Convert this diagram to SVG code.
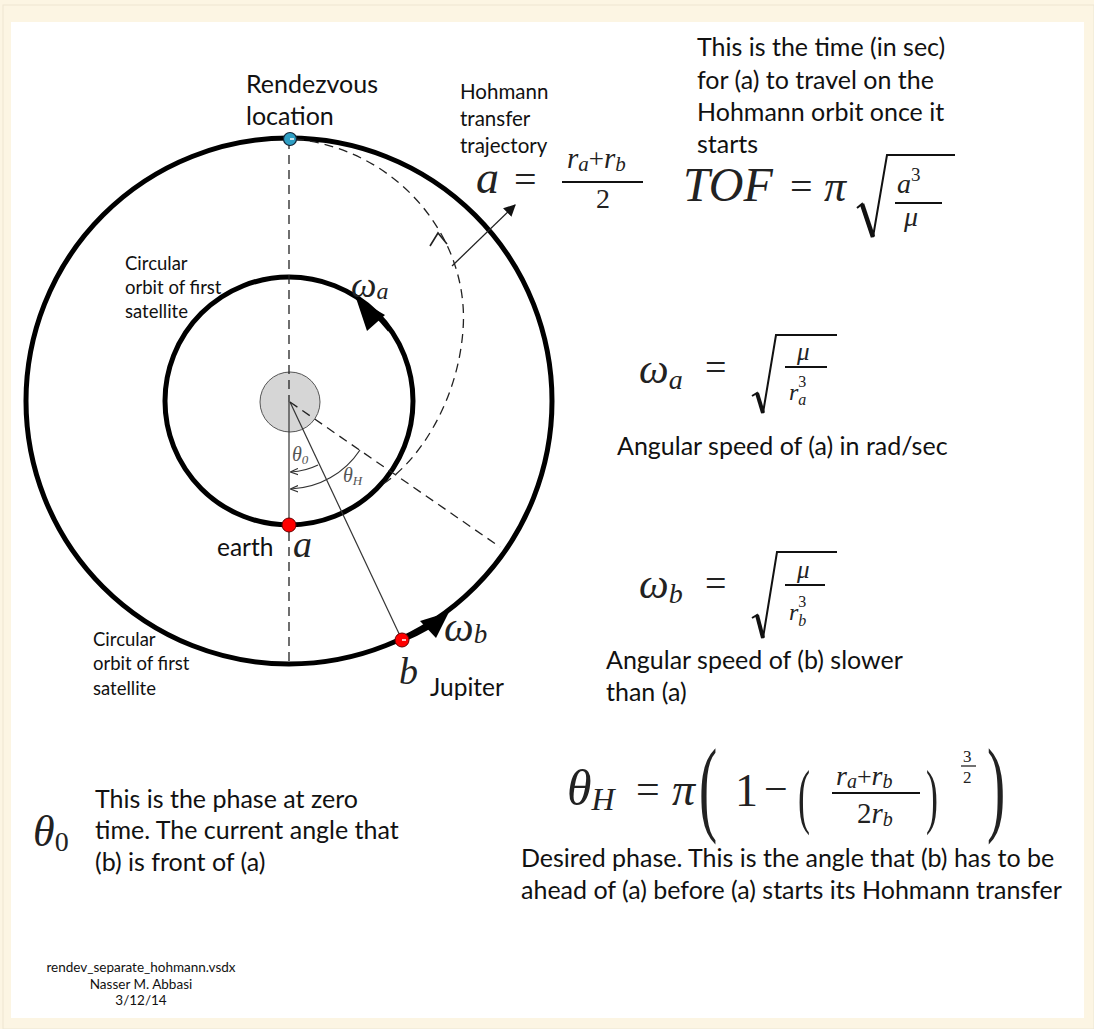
<svg xmlns="http://www.w3.org/2000/svg" width="1094" height="1029" viewBox="0 0 1094 1029">
<defs>
<style>
.txt{font-family:Lato,"Liberation Sans",sans-serif;fill:#111}
.t22{font-size:25px}
.t20{font-size:24.5px}
.t18{font-size:20.5px}
.t16{font-size:18.5px}
.t11{font-size:13.5px}
.m{font-family:"Liberation Serif","Times New Roman",serif;fill:#222}
.mi{font-style:italic}
.orbit{fill:none;stroke:#000;stroke-width:5}
.dash{fill:none;stroke:#222;stroke-width:1.3;stroke-dasharray:9 6}
.thin{fill:none;stroke:#333;stroke-width:1.2}
.rad{fill:none;stroke:#111;stroke-linejoin:miter}
.fbar{stroke:#111;stroke-width:2}
</style>
<marker id="arrF" viewBox="0 0 10 10" refX="9" refY="5" markerWidth="12" markerHeight="12" markerUnits="userSpaceOnUse" orient="auto"><path d="M0,0 L10,5 L0,10 z" fill="#111"/></marker>
<marker id="arrS" viewBox="0 0 10 10" refX="9" refY="5" markerWidth="8" markerHeight="8" markerUnits="userSpaceOnUse" orient="auto"><path d="M0,1 L10,5 L0,9" fill="none" stroke="#333" stroke-width="1.5"/></marker>
</defs>
<rect x="0" y="0" width="1094" height="1029" fill="#fcf5e3"/>
<rect x="3" y="5" width="1091" height="1024" fill="none" stroke="#ede6d2" stroke-width="1"/>
<rect x="11" y="22" width="1073" height="996" fill="#ffffff"/>

<g id="orbits">
<circle cx="289" cy="401" r="263" class="orbit"/>
<circle cx="289" cy="401" r="124" class="orbit"/>
</g>

<g id="central-body">
<circle cx="290" cy="402" r="30" fill="#d6d6d6" stroke="#555" stroke-width="1"/>
</g>

<g id="connectors">
<line x1="289" y1="140" x2="289" y2="402" class="dash"/>
<line x1="289" y1="402" x2="289" y2="520" class="thin"/>
<line x1="289" y1="532" x2="289" y2="664" class="dash"/>
<line x1="290" y1="402" x2="402" y2="640" class="thin"/>
<line x1="290" y1="402" x2="500" y2="547" class="dash"/>
<path d="M 295,139 C 400,150 470,240 463,330 C 458,400 420,460 383,484" class="dash"/>
<path d="M 430,246 L 438,233 L 447,244" fill="none" stroke="#222" stroke-width="1.6"/>
<line x1="452" y1="266" x2="515" y2="205" stroke="#222" stroke-width="1.3" marker-end="url(#arrF)"/>
<path d="M 318,465 A 70 70 0 0 1 291,472" class="thin" marker-end="url(#arrS)"/>
<path d="M 360,450 A 87 87 0 0 1 291,489" class="thin" marker-end="url(#arrS)"/>
<path d="M 390,330 A 124 124 0 0 0 372,311" fill="none" stroke="#000" stroke-width="5"/>
<path d="M 356,298 L 367,331 L 385,315 z" fill="#000"/>
<path d="M 402,640 A 263 263 0 0 0 430,626" fill="none" stroke="#000" stroke-width="5"/>
<path d="M 449,612 L 420,621 L 436,638 z" fill="#000"/>
</g>

<g id="node-rendezvous">
<circle cx="290" cy="139" r="6.5" fill="#2f9fc4" stroke="#123" stroke-width="1.2"/>
<line x1="290" y1="139" x2="294" y2="139" stroke="#fff" stroke-width="1.5"/>
<text class="txt t22" x="246" y="93">Rendezvous</text>
<text class="txt t22" x="246" y="125">location</text>
</g>

<g id="node-a">
<circle cx="289" cy="525" r="7" fill="#f00" stroke="#600" stroke-width="1"/>
<text class="txt t20" x="217" y="556">earth</text>
<text class="m mi" font-size="38" x="293" y="557">a</text>
</g>

<g id="node-b">
<circle cx="402" cy="640" r="7" fill="#f00" stroke="#600" stroke-width="1"/>
<line x1="402" y1="640" x2="406" y2="640" stroke="#fff" stroke-width="1.5"/>
<text class="m mi" font-size="38" x="399" y="684">b</text>
<text class="txt t20" x="430" y="696">Jupiter</text>
<text class="m mi" font-size="42" x="444" y="641">ω<tspan font-size="27" dy="2">b</tspan></text>
</g>

<g id="labels-orbit">
<text class="m mi" font-size="36" x="351" y="297">ω<tspan font-size="24" dy="2">a</tspan></text>
<text class="txt t16" x="125" y="270">Circular</text>
<text class="txt t16" x="125" y="294">orbit of first</text>
<text class="txt t16" x="125" y="318">satellite</text>
<text class="txt t16" x="93" y="646">Circular</text>
<text class="txt t16" x="93" y="670">orbit of first</text>
<text class="txt t16" x="93" y="695">satellite</text>
<text class="txt t18" x="460" y="99">Hohmann</text>
<text class="txt t18" x="460" y="126">transfer</text>
<text class="txt t18" x="460" y="153">trajectory</text>
<text class="m mi" font-size="20" x="292" y="461" style="fill:#555">θ<tspan font-size="13" dy="3">0</tspan></text>
<text class="m mi" font-size="20" x="343" y="482" style="fill:#555">θ<tspan font-size="13" dy="3">H</tspan></text>
</g>

<g id="eq-a">
<text class="m mi" font-size="46" x="476" y="193">a</text>
<text class="m" font-size="40" x="514" y="193">=</text>
<text class="m mi" font-size="29" x="567" y="168">r<tspan font-size="21" dy="3">a</tspan><tspan font-style="normal" font-size="27" dy="-3">+</tspan>r<tspan font-size="21" dy="3">b</tspan></text>
<line x1="562" y1="182" x2="643" y2="182" class="fbar"/>
<text class="m" font-size="28" x="596" y="208">2</text>
</g>

<g id="note-tof">
<text class="txt t22" x="697" y="56">This is the time (in sec)</text>
<text class="txt t22" x="697" y="89">for (a) to travel on the</text>
<text class="txt t22" x="697" y="121">Hohmann orbit once it</text>
<text class="txt t22" x="697" y="153">starts</text>
<text class="m mi" font-size="48" x="683" y="201">TOF</text>
<text class="m" font-size="40" x="790" y="200">=</text>
<text class="m mi" font-size="44" x="824" y="201">π</text>
<path d="M 857,208 L 862,204 L 873,237 L 887,155 L 955,155" class="rad" stroke-width="2"/>
<path d="M 862,204 L 873,237" stroke="#111" stroke-width="4.5"/>
<text class="m mi" font-size="28" x="897" y="193">a<tspan font-style="normal" font-size="19" dy="-12">3</tspan></text>
<line x1="895" y1="203" x2="942" y2="203" class="fbar"/>
<text class="m mi" font-size="28" x="904" y="226">μ</text>
</g>

<g id="eq-wa">
<text class="m mi" font-size="42" x="639" y="383">ω<tspan font-size="28" dy="6">a</tspan></text>
<text class="m" font-size="38" x="705" y="380">=</text>
<path d="M 752,396 L 757,393 L 763,413 L 776,335 L 837,335" class="rad" stroke-width="2"/>
<path d="M 757,393 L 763,413" stroke="#111" stroke-width="4"/>
<text class="m mi" font-size="25" x="797" y="360">μ</text>
<line x1="785" y1="367" x2="827" y2="367" class="fbar"/>
<text class="m mi" font-size="24" x="789" y="400">r<tspan font-size="16" dy="5">a</tspan><tspan font-style="normal" font-size="16" dx="-8" dy="-18">3</tspan></text>
<text class="txt t22" x="617" y="455">Angular speed of (a) in rad/sec</text>
</g>

<g id="eq-wb">
<text class="m mi" font-size="42" x="639" y="598">ω<tspan font-size="28" dy="5">b</tspan></text>
<text class="m" font-size="38" x="705" y="596">=</text>
<path d="M 752,618 L 757,615 L 763,638 L 777,552 L 837,552" class="rad" stroke-width="2"/>
<path d="M 757,615 L 763,638" stroke="#111" stroke-width="4"/>
<text class="m mi" font-size="25" x="797" y="578">μ</text>
<line x1="785" y1="585" x2="825" y2="585" class="fbar"/>
<text class="m mi" font-size="24" x="789" y="620">r<tspan font-size="16" dy="6">b</tspan><tspan font-style="normal" font-size="16" dx="-8" dy="-19">3</tspan></text>
<text class="txt t22" x="606" y="669">Angular speed of (b) slower</text>
<text class="txt t22" x="606" y="701">than (a)</text>
</g>

<g id="note-theta0">
<text class="m mi" font-size="44" x="33" y="846">θ<tspan font-style="normal" font-size="28" dy="5">0</tspan></text>
<text class="txt t22" x="95" y="808">This is the phase at zero</text>
<text class="txt t22" x="95" y="839">time. The current angle that</text>
<text class="txt t22" x="95" y="871">(b) is front of (a)</text>
</g>

<g id="eq-thetaH">
<text class="m mi" font-size="50" x="567" y="805">θ<tspan font-size="32" dy="5">H</tspan></text>
<text class="m" font-size="42" x="636" y="803">=</text>
<text class="m mi" font-size="46" x="672" y="805">π</text>
<text class="m" font-size="42" transform="translate(699,822) scale(1.3,2.5)">(</text>
<text class="m" font-size="46" x="735" y="806">1</text>
<text class="m" font-size="42" x="764" y="803">−</text>
<text class="m" font-size="36" transform="translate(798,820) scale(1,2)">(</text>
<text class="m mi" font-size="28" x="836" y="785">r<tspan font-size="20" dy="3">a</tspan><tspan font-style="normal" font-size="26" dy="-3">+</tspan>r<tspan font-size="20" dy="3">b</tspan></text>
<line x1="832" y1="793" x2="920" y2="793" class="fbar"/>
<text class="m mi" font-size="29" x="857" y="823"><tspan font-style="normal">2</tspan>r<tspan font-size="20" dy="3">b</tspan></text>
<text class="m" font-size="36" transform="translate(926,820) scale(1,2)">)</text>
<text class="m" font-size="17" x="963" y="762">3</text>
<line x1="961" y1="766" x2="976" y2="766" stroke="#111" stroke-width="1.2"/>
<text class="m" font-size="17" x="963" y="783">2</text>
<text class="m" font-size="42" transform="translate(987,822) scale(1.3,2.5)">)</text>
<text class="txt t22" x="521" y="867">Desired phase. This is the angle that (b) has to be</text>
<text class="txt t22" x="521" y="899">ahead of (a) before (a) starts its Hohmann transfer</text>
</g>

<g id="footer">
<text class="txt t11" x="141" y="972" text-anchor="middle">rendev_separate_hohmann.vsdx</text>
<text class="txt t11" x="141" y="989" text-anchor="middle">Nasser M. Abbasi</text>
<text class="txt t11" x="141" y="1005" text-anchor="middle">3/12/14</text>
</g>
</svg>
